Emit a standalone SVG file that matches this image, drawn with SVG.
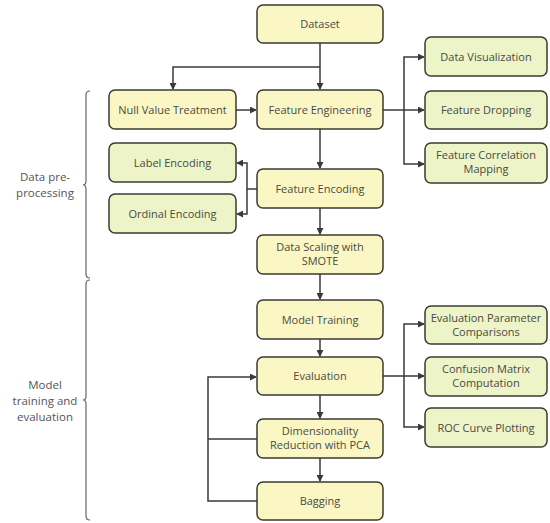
<svg xmlns="http://www.w3.org/2000/svg" width="550" height="523" viewBox="0 0 550 523">
<defs>
<style>
.y{fill:#fbf7c4;stroke:#3b3b30;stroke-width:1.5}
.g{fill:#ecf4c8;stroke:#3b3b30;stroke-width:1.5}
.t{font-family:"Open Sans","Liberation Sans",sans-serif;font-size:11px;fill:#4a4a44;text-anchor:middle}
.l{font-family:"Open Sans","Liberation Sans",sans-serif;font-size:11.5px;fill:#555;text-anchor:middle}
.c{fill:none;stroke:#3a3a3a;stroke-width:1.5}
.b{fill:none;stroke:#666;stroke-width:1.2}
</style>
<marker id="a" viewBox="0 0 8 8" refX="7" refY="4" markerWidth="7" markerHeight="7" markerUnits="userSpaceOnUse" orient="auto">
<path d="M0,0 L8,4 L0,8 z" fill="#3a3a3a"/>
</marker>
</defs>
<rect width="550" height="523" fill="#fff"/>
<g id="braces">
<path class="b" d="M90,91 Q86,91 86,95 V181 Q86,185 83,185 Q86,185 86,189 V274 Q86,278 90,278"/>
<path class="b" d="M90,280 Q86,280 86,284 V396 Q86,400 83,400 Q86,400 86,404 V516 Q86,520 90,520"/>
<text class="l" x="45" y="181">Data pre-</text>
<text class="l" x="45" y="197">processing</text>
<text class="l" x="45" y="389">Model</text>
<text class="l" x="45" y="405">training and</text>
<text class="l" x="45" y="421">evaluation</text>
</g>
<g id="connectors">
<path class="c" d="M320,43 V89" marker-end="url(#a)"/>
<path class="c" d="M320,67 H173 V89" marker-end="url(#a)"/>
<path class="c" d="M236,110 H256" marker-end="url(#a)"/>
<path class="c" d="M320,129 V168" marker-end="url(#a)"/>
<path class="c" d="M257,189 H247 V163 H237" marker-end="url(#a)"/>
<path class="c" d="M247,189 V214 H237" marker-end="url(#a)"/>
<path class="c" d="M320,208 V234" marker-end="url(#a)"/>
<path class="c" d="M320,274 V299" marker-end="url(#a)"/>
<path class="c" d="M320,339 V356" marker-end="url(#a)"/>
<path class="c" d="M320,395 V418" marker-end="url(#a)"/>
<path class="c" d="M320,458 V481" marker-end="url(#a)"/>
<path class="c" d="M257,439 H208"/>
<path class="c" d="M257,501 H208 V377 H256" marker-end="url(#a)"/>
<path class="c" d="M383,110 H404 V57 H424" marker-end="url(#a)"/>
<path class="c" d="M404,110 H424" marker-end="url(#a)"/>
<path class="c" d="M404,110 V164 H424" marker-end="url(#a)"/>
<path class="c" d="M383,376 H404 V324 H424" marker-end="url(#a)"/>
<path class="c" d="M404,376 H424" marker-end="url(#a)"/>
<path class="c" d="M404,376 V427 H424" marker-end="url(#a)"/>
</g>
<g id="dataset"><rect class="y" x="257" y="5" width="126" height="38" rx="6"/><text class="t" x="320" y="28">Dataset</text></g>
<g id="null"><rect class="y" x="109" y="90" width="127" height="39" rx="6"/><text class="t" x="172.5" y="113.5">Null Value Treatment</text></g>
<g id="fe"><rect class="y" x="257" y="90" width="126" height="39" rx="6"/><text class="t" x="320" y="113.5">Feature Engineering</text></g>
<g id="label"><rect class="g" x="109" y="143" width="127" height="39" rx="6"/><text class="t" x="172.5" y="166.5">Label Encoding</text></g>
<g id="ordinal"><rect class="g" x="109" y="194" width="127" height="39" rx="6"/><text class="t" x="172.5" y="217.5">Ordinal Encoding</text></g>
<g id="fenc"><rect class="y" x="257" y="169" width="126" height="39" rx="6"/><text class="t" x="320" y="192.5">Feature Encoding</text></g>
<g id="dss"><rect class="y" x="257" y="235" width="126" height="39" rx="6"/><text class="t" x="320" y="251">Data Scaling with</text><text class="t" x="320" y="265">SMOTE</text></g>
<g id="mt"><rect class="y" x="257" y="300" width="126" height="39" rx="6"/><text class="t" x="320" y="323.5">Model Training</text></g>
<g id="eval"><rect class="y" x="257" y="357" width="126" height="38" rx="6"/><text class="t" x="320" y="380">Evaluation</text></g>
<g id="dim"><rect class="y" x="257" y="419" width="126" height="39" rx="6"/><text class="t" x="320" y="435">Dimensionality</text><text class="t" x="320" y="449">Reduction with PCA</text></g>
<g id="bag"><rect class="y" x="257" y="482" width="126" height="38" rx="6"/><text class="t" x="320" y="505">Bagging</text></g>
<g id="dv"><rect class="g" x="425" y="37" width="122" height="39" rx="6"/><text class="t" x="486" y="60.5">Data Visualization</text></g>
<g id="fd"><rect class="g" x="425" y="91" width="122" height="38" rx="6"/><text class="t" x="486" y="114">Feature Dropping</text></g>
<g id="fcm"><rect class="g" x="425" y="143" width="122" height="40" rx="6"/><text class="t" x="486" y="159">Feature Correlation</text><text class="t" x="486" y="173">Mapping</text></g>
<g id="epc"><rect class="g" x="425" y="306" width="122" height="38" rx="6"/><text class="t" x="486" y="321.5">Evaluation Parameter</text><text class="t" x="486" y="335.5">Comparisons</text></g>
<g id="cmc"><rect class="g" x="425" y="357" width="122" height="39" rx="6"/><text class="t" x="486" y="373">Confusion Matrix</text><text class="t" x="486" y="387">Computation</text></g>
<g id="roc"><rect class="g" x="425" y="408" width="122" height="39" rx="6"/><text class="t" x="486" y="431.5">ROC Curve Plotting</text></g>
</svg>
